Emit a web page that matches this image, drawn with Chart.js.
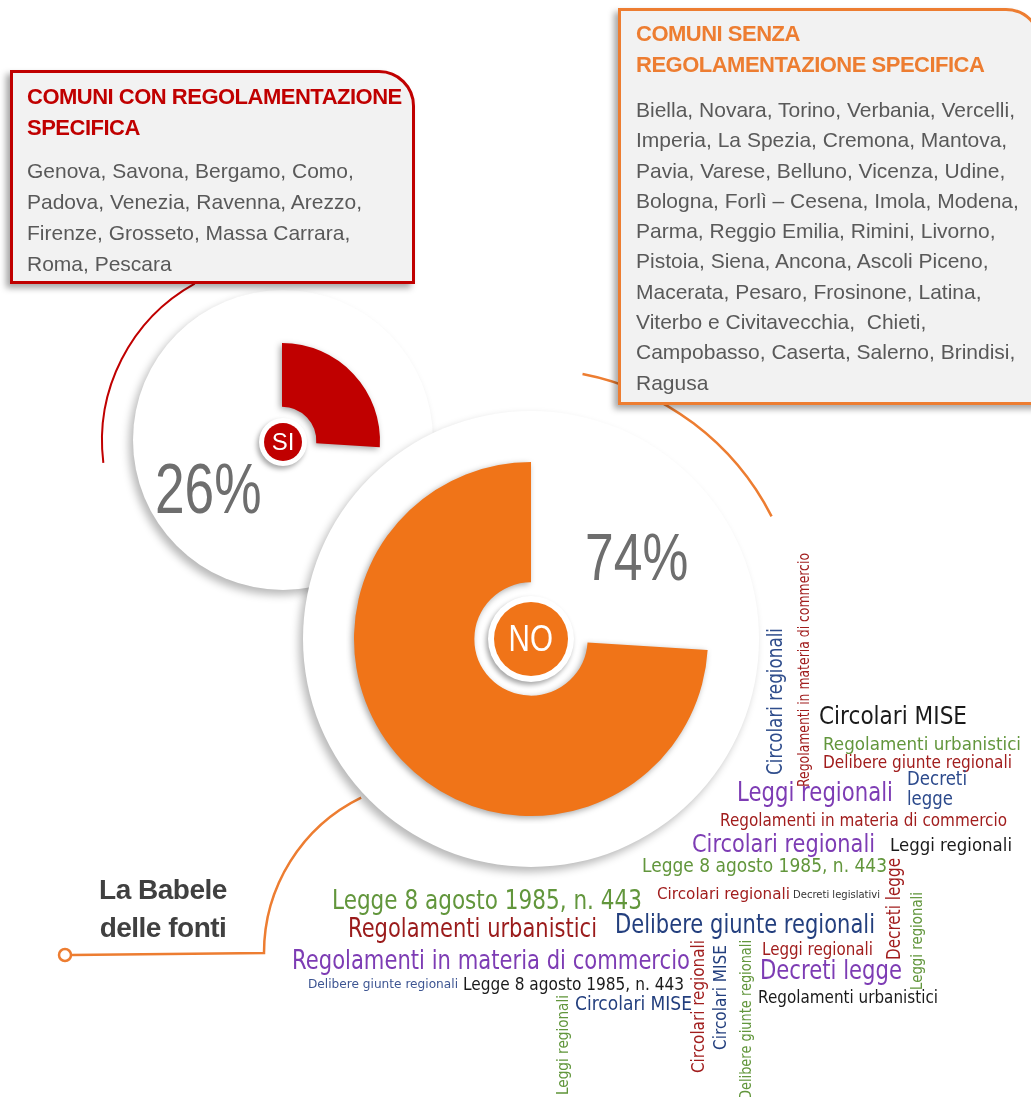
<!DOCTYPE html>
<html>
<head>
<meta charset="utf-8">
<script src="https://cdn.jsdelivr.net/npm/chart.js@4/dist/chart.umd.min.js"></script>
<style>
  html, body { margin: 0; padding: 0; background: #fff; }
  body { width: 1031px; height: 1097px; position: relative; overflow: hidden; font-family: "Liberation Sans", Arial, sans-serif; }
  .abs { position: absolute; }
  .disc { position: absolute; border-radius: 50%; background: #fff; box-shadow: -4px 5px 9px rgba(0,0,0,0.28); }
  .box { position: absolute; box-sizing: border-box; background: #f2f2f2; border: 3px solid; border-top-right-radius: 36px; box-shadow: -4px 4px 6px rgba(0,0,0,0.35); }
  .title { position: absolute; font-weight: bold; font-size: 22px; line-height: 31px; letter-spacing: -0.5px; white-space: pre; }
  .body { position: absolute; font-size: 21px; color: #595959; white-space: pre; }
  .pct { position: absolute; font-size: 71px; line-height: 1; color: #6e6e6e; transform-origin: 0 0; white-space: pre; }
  .badge { position: absolute; border-radius: 50%; background: #fff; box-shadow: -2px 3px 5px rgba(0,0,0,0.35); }
  .badge div { position: absolute; border-radius: 50%; color: #fff; text-align: center; }
</style>
</head>
<body>
<canvas id="lines" class="abs" width="1031" height="1097" style="left:0;top:0"></canvas>

<div class="disc" style="left:133px;top:290px;width:300px;height:300px"></div>
<canvas id="siChart" class="abs" width="212" height="212" style="left:176px;top:335px"></canvas>
<div class="badge" style="left:259px;top:418px;width:48px;height:48px">
  <div id="siBadge" style="left:5px;top:5px;width:38px;height:38px;line-height:38px;font-size:24px;background:#c00000"></div>
</div>
<div id="siPct" class="pct" style="left:155px;top:453px;transform:scaleX(0.75)"></div>

<div class="disc" style="left:303px;top:411px;width:456px;height:456px"></div>
<canvas id="noChart" class="abs" width="370" height="370" style="left:346px;top:454px"></canvas>
<div class="badge" style="left:488px;top:596px;width:86px;height:86px">
  <div id="noBadge" style="left:6px;top:6px;width:74px;height:74px;line-height:74px;font-size:37px;background:#f07418"><span style="display:inline-block;transform:scaleX(0.8)"></span></div>
</div>
<div id="noPct" class="pct" style="left:585px;top:523px;font-size:67px;transform:scaleX(0.77)"></div>

<div class="box" style="left:10px;top:70px;width:405px;height:214px;border-color:#c00000">
  <div id="siTitle" class="title" style="left:14px;top:8px;color:#c00000"></div>
  <div id="siList" class="body" style="left:14px;top:82px;line-height:31px"></div>
</div>
<div class="box" style="left:618px;top:8px;width:424px;height:397px;border-color:#ed7d31">
  <div id="noTitle" class="title" style="left:15px;top:7px;color:#ed7d31"></div>
  <div id="noList" class="body" style="left:15px;top:84px;line-height:30.3px"></div>
</div>

<canvas id="cloud" class="abs" width="1031" height="1097" style="left:0;top:0"></canvas>

<div class="abs" style="left:63px;top:871px;width:200px;text-align:center;font-weight:bold;font-size:28px;line-height:38px;color:#404040;letter-spacing:-0.5px">La Babele<br>delle fonti</div>

<script>
// dati del grafico
const shareLabels = ['SI', 'NO'];
const shareValues = [26, 74];
const shareColors = ['#c00000', '#f07418'];

const titleSi = ['COMUNI CON REGOLAMENTAZIONE', 'SPECIFICA'];
const comuniSi = [
  'Genova, Savona, Bergamo, Como,',
  'Padova, Venezia, Ravenna, Arezzo,',
  'Firenze, Grosseto, Massa Carrara,',
  'Roma, Pescara'
];
const titleNo = ['COMUNI SENZA', 'REGOLAMENTAZIONE SPECIFICA'];
const comuniNo = [
  'Biella, Novara, Torino, Verbania, Vercelli,',
  'Imperia, La Spezia, Cremona, Mantova,',
  'Pavia, Varese, Belluno, Vicenza, Udine,',
  'Bologna, Forlì – Cesena, Imola, Modena,',
  'Parma, Reggio Emilia, Rimini, Livorno,',
  'Pistoia, Siena, Ancona, Ascoli Piceno,',
  'Macerata, Pesaro, Frosinone, Latina,',
  'Viterbo e Civitavecchia,  Chieti,',
  'Campobasso, Caserta, Salerno, Brindisi,',
  'Ragusa'
];

// nuvola di parole (fonti normative)
const GREEN = '#62963c', DRED = '#a11d1d', PURP = '#7d3cb4', NAVY = '#233f7e', BLK = '#1a1a1a';
// orizzontali: testo, x sinistra, x destra, y centro, size, colore
const cloudH = [
  ['Circolari MISE', 819, 967, 718, 24, BLK],
  ['Regolamenti urbanistici', 823, 1021, 745, 18, GREEN],
  ['Delibere giunte regionali', 823, 1012, 763, 18, DRED],
  ['Decreti', 907, 967, 780, 20, '#2c4a8c'],
  ['legge', 907, 953, 800, 20, '#2c4a8c'],
  ['Leggi regionali', 737, 893, 794, 27, PURP],
  ['Regolamenti in materia di commercio', 720, 1007, 821, 18, DRED],
  ['Circolari regionali', 692, 875, 845, 25, PURP],
  ['Leggi regionali', 890, 1012, 846, 18, BLK],
  ['Legge 8 agosto 1985, n. 443', 642, 887, 867, 19, GREEN],
  ['Circolari regionali', 657, 790, 895, 16, DRED],
  ['Decreti legislativi', 793, 880, 895, 11, '#333333'],
  ['Legge 8 agosto 1985, n. 443', 332, 642, 902, 27, GREEN],
  ['Regolamenti urbanistici', 348, 597, 930, 27, '#9a1b1b'],
  ['Delibere giunte regionali', 615, 875, 926, 27, NAVY],
  ['Regolamenti in materia di commercio', 292, 690, 962, 27, PURP],
  ['Leggi regionali', 762, 873, 951, 17, DRED],
  ['Decreti legge', 760, 902, 972, 27, PURP],
  ['Delibere giunte regionali', 308, 458, 985, 13, '#3d5592'],
  ['Legge 8 agosto 1985, n. 443', 463, 684, 985, 18, BLK],
  ['Circolari MISE', 575, 692, 1005, 19, NAVY],
  ['Regolamenti urbanistici', 758, 938, 999, 17, BLK]
];
// verticali: testo, x centro, y alto, y basso, size, colore
const cloudV = [
  ['Circolari regionali', 777, 628, 775, 21, '#2f4d8c'],
  ['Regolamenti in materia di commercio', 805, 553, 787, 15, DRED],
  ['Decreti legge', 895, 858, 960, 20, DRED],
  ['Leggi regionali', 918, 892, 990, 15, GREEN],
  ['Circolari regionali', 700, 940, 1073, 17, DRED],
  ['Circolari MISE', 722, 945, 1050, 17, NAVY],
  ['Delibere giunte regionali', 747, 940, 1100, 16, GREEN],
  ['Leggi regionali', 564, 995, 1095, 15, GREEN]
];

// testi dei riquadri
document.getElementById('siTitle').textContent = titleSi.join('\n');
document.getElementById('siList').textContent = comuniSi.join('\n');
document.getElementById('noTitle').textContent = titleNo.join('\n');
document.getElementById('noList').textContent = comuniNo.join('\n');
document.getElementById('siBadge').textContent = shareLabels[0];
document.querySelector('#noBadge span').textContent = shareLabels[1];
document.getElementById('siPct').textContent = shareValues[0] + '%';
document.getElementById('noPct').textContent = shareValues[1] + '%';

// linee di collegamento
const lc = document.getElementById('lines').getContext('2d');
const rad = d => d * Math.PI / 180;
lc.lineWidth = 2;
lc.strokeStyle = '#c00000';
lc.beginPath();
lc.arc(282, 441, 180, rad(173), rad(241));
lc.stroke();
lc.strokeStyle = '#ed7d31';
lc.lineWidth = 2.5;
lc.beginPath();
lc.arc(531, 639, 270, rad(281), rad(333));
lc.stroke();
lc.beginPath();
lc.arc(437, 953, 173, rad(244), rad(180), true);
lc.lineTo(71, 955);
lc.stroke();
lc.beginPath();
lc.arc(65, 955, 6, 0, Math.PI * 2);
lc.fillStyle = '#fff';
lc.fill();
lc.stroke();

// ombra sugli spicchi
const wedgeShadow = {
  id: 'wedgeShadow',
  beforeDatasetsDraw(chart) {
    const c = chart.ctx;
    c.save();
    c.shadowColor = 'rgba(0,0,0,0.35)';
    c.shadowBlur = 6;
    c.shadowOffsetX = -2;
    c.shadowOffsetY = 2;
  },
  afterDatasetsDraw(chart) {
    chart.ctx.restore();
  }
};

function makeDonut(id, colors, cutout) {
  return new Chart(document.getElementById(id), {
    type: 'doughnut',
    data: {
      labels: shareLabels,
      datasets: [{
        data: shareValues,
        backgroundColor: colors,
        borderWidth: 0,
        hoverOffset: 0
      }]
    },
    options: {
      responsive: false,
      animation: false,
      events: [],
      cutout: cutout,
      layout: { padding: 8 },
      plugins: { legend: { display: false }, tooltip: { enabled: false } }
    },
    plugins: [wedgeShadow]
  });
}
makeDonut('siChart', [shareColors[0], 'rgba(0,0,0,0)'], '35%');
makeDonut('noChart', ['rgba(0,0,0,0)', shareColors[1]], '32%');

// nuvola di parole
const cc = document.getElementById('cloud').getContext('2d');
cc.textAlign = 'center';
cc.textBaseline = 'middle';
function word(t, cx, cy, len, size, color, vertical) {
  cc.font = size + 'px "DejaVu Sans", sans-serif';
  const w = cc.measureText(t).width;
  cc.save();
  cc.translate(cx, cy);
  if (vertical) cc.rotate(-Math.PI / 2);
  cc.scale(len / w, 1);
  cc.fillStyle = color;
  cc.fillText(t, 0, 0);
  cc.restore();
}
cloudH.forEach(([t, x1, x2, cy, s, col]) => word(t, (x1 + x2) / 2, cy, x2 - x1, s, col, false));
cloudV.forEach(([t, cx, y1, y2, s, col]) => word(t, cx, (y1 + y2) / 2, y2 - y1, s, col, true));
</script>
</body>
</html>
